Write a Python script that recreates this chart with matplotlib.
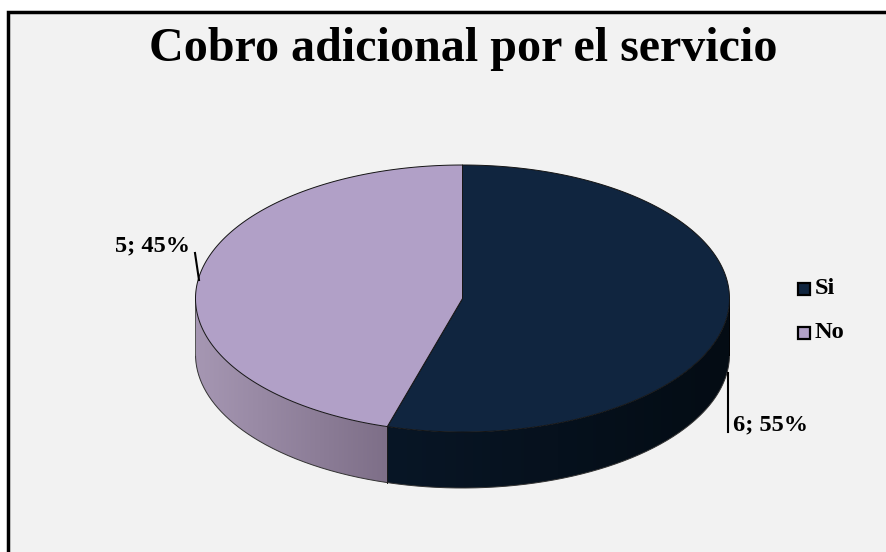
import numpy as np
import matplotlib.pyplot as plt
from matplotlib.patches import Polygon, Rectangle
from matplotlib.colors import LinearSegmentedColormap

W, H = 887, 552

title = 'Cobro adicional por el servicio'
categories = ['Si', 'No']
values = [6, 5]
percents = ['55%', '45%']
top_colors = ['#10253F', '#B1A0C7']
# wall gradient of each slice, left end then right end
wall_colors = [('#081626', '#040C14'), ('#A697B3', '#7E6F88')]

# pie geometry in figure pixels
cx, cy = 462.5, 298.5
rx, ry = 267, 133.5
depth = 56
bg = '#F2F2F2'

plt.rcParams['font.family'] = ['Liberation Serif', 'DejaVu Serif']

fig = plt.figure(figsize=(W / 100, H / 100), dpi=100)
ax = fig.add_axes([0, 0, 1, 1])
ax.axis('off')

# chart area with a heavy frame that runs off the right and bottom of the canvas
ax.add_patch(Rectangle((8.5, 11.7), 900, 560, fc=bg, ec='black', lw=2.5, zorder=1))


def rim(t):
    # t is the clockwise angle from twelve o'clock
    return cx + rx * np.sin(t), cy - ry * np.cos(t)


total = sum(values)
edges = np.concatenate([[0], np.cumsum(values)]) / total * 2 * np.pi

# side wall, only the front half of the pie shows it
for (left, right), a, b in zip(wall_colors, edges[:-1], edges[1:]):
    lo, hi = max(a, np.pi / 2), min(b, 3 * np.pi / 2)
    ts = np.linspace(lo, hi, 200)
    xs, ys = rim(ts)
    outline = np.column_stack([np.r_[xs, xs[::-1]], np.r_[ys, ys[::-1] + depth]])
    wall = Polygon(outline, fc='none', ec='none', zorder=2)
    ax.add_patch(wall)
    cmap = LinearSegmentedColormap.from_list('wall', [left, right])
    img = ax.imshow(np.linspace(0, 1, 256)[None, :], cmap=cmap, aspect='auto', zorder=2,
                    extent=(xs.min(), xs.max(), ys.max() + depth, ys.min()))
    img.set_clip_path(wall)
    ax.plot(xs, ys + depth, color='#333333', lw=0.7, zorder=3)

ax.set_xlim(0, W)
ax.set_ylim(H, 0)

# seam between the two walls and the outer silhouette
x_seam, y_seam = rim(edges[1])
ax.plot([x_seam, x_seam], [y_seam, y_seam + depth], color='#1a1a1a', lw=0.7, zorder=3)
ax.plot([cx - rx, cx - rx], [cy, cy + depth], color='#555555', lw=0.7, zorder=3)
ax.plot([cx + rx, cx + rx], [cy, cy + depth], color='#000000', lw=0.7, zorder=3)

# top face
for color, a, b in zip(top_colors, edges[:-1], edges[1:]):
    xs, ys = rim(np.linspace(a, b, 240))
    pts = np.column_stack([np.r_[cx, xs], np.r_[cy, ys]])
    ax.add_patch(Polygon(pts, fc=color, ec='#141414', lw=0.7, joinstyle='round', zorder=4))

# title, leader lines and their labels
ax.text(463.5, 49, title, ha='center', va='center', fontsize=34.6, fontweight='bold', zorder=5)

ax.plot([728.5, 728.5], [373, 432], color='black', lw=1.5, zorder=5)
ax.text(733, 425, f'{values[0]}; {percents[0]}', ha='left', va='center', fontsize=17.6,
        fontweight='bold', zorder=5)

ax.plot([195, 199], [253, 280], color='black', lw=1.5, zorder=5)
ax.text(190, 246, f'{values[1]}; {percents[1]}', ha='right', va='center', fontsize=17.6,
        fontweight='bold', zorder=5)

# legend
for name, color, y in zip(categories, top_colors, [289, 333]):
    ax.add_patch(Rectangle((798, y - 6), 12, 12, fc=color, ec='black', lw=1.6, zorder=5))
    ax.text(815, y, name, ha='left', va='center', fontsize=17.6, fontweight='bold', zorder=5)

fig.savefig('out.png', dpi=100, facecolor='white')
